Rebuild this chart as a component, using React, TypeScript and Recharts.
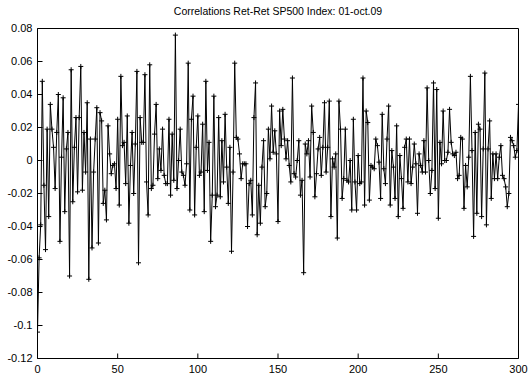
import React from "react";
import { LineChart, Line, XAxis, YAxis } from "recharts";

const chartTitle = "Correlations Ret-Ret SP500 Index: 01-oct.09";

// daily values, index 0..300
const retValues = [
  -0.104, -0.059, -0.039, 0.048, -0.015, -0.054, 0.019, -0.034, 0.034, 0.019,
  0.008, -0.017, 0.017, 0.04, -0.049, 0.002, 0.038, -0.031, 0.007, 0.017,
  -0.07, 0.055, -0.025, 0.008, 0.026, -0.019, 0.026, 0.057, -0.018, 0.017,
  -0.007, 0.035, -0.072, 0.013, -0.053, -0.007, 0.013, 0.032, -0.05, 0.029,
  0.024, -0.026, -0.018, -0.036, 0.021, 0.004, -0.008, -0.003, -0.002, -0.017,
  0.025, -0.027, 0.051, 0.009, 0.011, -0.014, 0.027, -0.038, -0.003, 0.017,
  -0.02, 0.01, 0.054, -0.062, 0.026, 0.011, 0.011, 0.052, -0.013, -0.033,
  0.058, -0.017, -0.015, 0.016, 0.034, -0.011, 0.007, -0.006, 0.019, -0.009,
  -0.014, -0.014, 0.025, -0.021, 0.016, -0.012, 0.076, -0.017, 0.0, 0.019,
  -0.007, -0.009, -0.015, -0.002, 0.059, -0.03, 0.025, 0.039, -0.033, 0.008,
  0.027, -0.009, -0.007, 0.022, -0.031, 0.048, -0.006, 0.011, -0.049, -0.021,
  0.039, -0.028, -0.021, 0.026, -0.022, 0.012, -0.013, 0.028, -0.004, -0.026,
  0.008, -0.055, -0.007, 0.059, 0.014, 0.013, 0.004, -0.011, -0.002, -0.002,
  -0.002, -0.04, -0.014, -0.012, -0.033, 0.026, 0.047, -0.045, -0.015, -0.038,
  -0.004, 0.012, -0.028, -0.02, 0.019, 0.001, 0.033, 0.005, 0.018, 0.004,
  -0.037, 0.03, 0.009, 0.031, 0.013, 0.001, 0.012, -0.003, -0.013, 0.05,
  -0.008, -0.01, 0.0, 0.012, -0.021, -0.012, -0.068, 0.01, 0.004, 0.012,
  -0.01, 0.033, 0.017, -0.022, -0.008, 0.007, 0.014, -0.009, 0.008, 0.035,
  -0.007, 0.008, 0.036, -0.034, 0.001, -0.004, 0.004, -0.047, 0.036, 0.019,
  -0.023, -0.011, 0.019, -0.012, -0.013, 0.0, -0.03, 0.025, -0.013, -0.03,
  0.003, -0.014, -0.013, 0.05, -0.027, 0.03, 0.023, -0.024, -0.003, -0.004,
  -0.005, 0.013, 0.009, -0.001, -0.023, 0.028, -0.005, -0.014, 0.013, 0.033,
  -0.027, 0.006, -0.004, -0.023, 0.021, -0.034, 0.003, -0.011, -0.029, 0.008,
  0.013, -0.013, 0.013, -0.014, -0.004, 0.01, -0.002, -0.032, 0.004, -0.003,
  -0.007, 0.012, -0.007, 0.044, 0.0, -0.02, -0.006, 0.047, -0.017, 0.043,
  -0.035, 0.011, -0.002, 0.03, 0.0, 0.0, 0.005, 0.031, 0.011, 0.004,
  0.003, 0.005, -0.011, -0.009, 0.014, 0.013, -0.029, -0.003, -0.016, 0.002,
  0.051, 0.006, -0.046, 0.017, -0.032, 0.022, 0.019, -0.034, 0.007, 0.053,
  -0.039, 0.007, 0.024, -0.023, 0.004, -0.011, 0.004, -0.011, 0.002, 0.009,
  -0.009, -0.011, -0.016, -0.028, -0.02, 0.014, 0.012, 0.009, 0.002, 0.006,
  0.034,
];

const xTicks = [0, 50, 100, 150, 200, 250, 300];
const yTicks = [0.08, 0.06, 0.04, 0.02, 0, -0.02, -0.04, -0.06, -0.08, -0.1, -0.12];

const data = retValues.map((r, t) => ({ t, r }));

const font = "'Liberation Sans', Arial, Helvetica, sans-serif";
const tickStyle = { fill: "#000", fontSize: 11, fontFamily: font };
const black = { stroke: "#000" };

const PlusDot = (props: any) => {
  const { cx, cy } = props;
  if (cx == null || cy == null) return null;
  return (
    <path
      d={`M${cx - 2.5},${cy}h5M${cx},${cy - 2.5}v5`}
      stroke="#000"
      strokeWidth={1}
      fill="none"
    />
  );
};

export default function App() {
  return (
    <div style={{ position: "absolute", left: 0, top: 0, width: 530, height: 375, background: "#fff" }}>
      <LineChart
        width={530}
        height={375}
        data={data}
        margin={{ top: 0, right: 0, bottom: 0, left: 0.5 }}
      >
        <XAxis
          dataKey="t"
          type="number"
          domain={[0, 300]}
          ticks={xTicks}
          interval={0}
          allowDataOverflow
          height={16.5}
          tickSize={-5}
          tickMargin={11.5}
          axisLine={black}
          tickLine={black}
          tick={tickStyle}
        />
        <XAxis
          xAxisId="top"
          orientation="top"
          type="number"
          domain={[0, 300]}
          ticks={xTicks}
          interval={0}
          allowDataOverflow
          height={28.5}
          tickSize={-5}
          axisLine={black}
          tickLine={black}
          tick={false}
        />
        <YAxis
          type="number"
          domain={[-0.12, 0.08]}
          ticks={yTicks}
          interval={0}
          allowDataOverflow
          width={37}
          tickSize={-5}
          tickMargin={10}
          axisLine={black}
          tickLine={black}
          tick={tickStyle}
        />
        <YAxis
          yAxisId="right"
          orientation="right"
          type="number"
          domain={[-0.12, 0.08]}
          ticks={yTicks}
          interval={0}
          allowDataOverflow
          width={11.5}
          tickSize={-5}
          axisLine={black}
          tickLine={black}
          tick={false}
        />
        <Line
          dataKey="r"
          type="linear"
          stroke="#000"
          strokeWidth={1}
          dot={PlusDot}
          activeDot={false}
          isAnimationActive={false}
        />
      </LineChart>
      <svg width={530} height={20} style={{ position: "absolute", left: 0, top: 0 }}>
        <text x={278} y={15} textAnchor="middle" fontSize={10.5} fontFamily={font} fill="#000">
          {chartTitle}
        </text>
      </svg>
    </div>
  );
}
